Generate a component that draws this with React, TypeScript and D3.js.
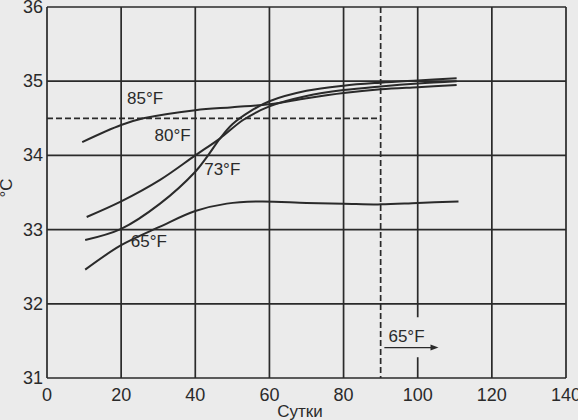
import React from "react";
import * as d3 from "d3";

const xTicks = [0, 20, 40, 60, 80, 100, 120, 140];
const yTicks = [31, 32, 33, 34, 35, 36];

const days85 = [9.5, 20, 26, 40, 50, 60, 70, 80, 90, 100, 110.5];
const temp85 = [34.18, 34.41, 34.5, 34.61, 34.65, 34.69, 34.77, 34.84, 34.89, 34.92, 34.95];

const days80 = [10.7, 20, 30.5, 40, 46.7, 53, 60, 70, 80, 90, 100, 110.5];
const temp80 = [33.17, 33.38, 33.67, 34.0, 34.23, 34.48, 34.66, 34.8, 34.88, 34.93, 34.97, 35.0];

const days73 = [10.3, 20, 30.5, 40, 43, 46.7, 50, 55, 60, 70, 80, 90, 100, 110.5];
const temp73 = [32.86, 33.01, 33.35, 33.78, 33.97, 34.23, 34.42, 34.6, 34.73, 34.87, 34.94, 34.98, 35.01, 35.04];

const days65 = [10.3, 20, 30.5, 40, 48.5, 57.5, 70, 80, 90, 100, 111];
const temp65 = [32.46, 32.79, 33.04, 33.25, 33.35, 33.38, 33.36, 33.35, 33.34, 33.36, 33.38];

const curveLabels = [
  { text: "85°F", day: 21.6, temp: 34.69 },
  { text: "80°F", day: 29, temp: 34.2 },
  { text: "73°F", day: 42.4, temp: 33.74 },
  { text: "65°F", day: 22.6, temp: 32.76 },
];

const thresholdTemp = 34.5;
const thresholdDay = 90;
const gapTop = 31.82;
const gapBottom = 31.28;
const arrowLabel = { text: "65°F", day: 92.1, temp: 31.48 };
const arrowFrom = 91;
const arrowTo = 105.6;
const arrowTemp = 31.41;

const W = 578;
const H = 420;

export default function App() {
  const x = d3.scaleLinear().domain([0, 140]).range([47, 566]);
  const y = d3.scaleLinear().domain([31, 36]).range([378, 7]);
  const line = d3
    .line<[number, number]>()
    .x((d) => x(d[0]))
    .y((d) => y(d[1]))
    .curve(d3.curveCatmullRom.alpha(0.5));
  const series = [
    [days85, temp85],
    [days80, temp80],
    [days73, temp73],
    [days65, temp65],
  ].map(([ds, ts]) => ds.map((d, i) => [d, ts[i]] as [number, number]));

  const ink = "#2a2a2a";
  const bg = "#ebebeb";
  const font = "'Liberation Sans', Arial, Helvetica, sans-serif";

  return (
    <svg
      width={W}
      height={H}
      style={{ position: "fixed", left: 0, top: 0, background: bg }}
      fontFamily={font}
    >
      <rect x={0} y={0} width={W} height={H} fill={bg} />
      {yTicks.map((t) => (
        <line key={"h" + t} x1={x(0)} x2={x(140)} y1={y(t)} y2={y(t)} stroke={ink} strokeWidth={1.7} />
      ))}
      {xTicks.map((t) =>
        t === 100 ? (
          <g key={"v" + t}>
            <line x1={x(t)} x2={x(t)} y1={y(36)} y2={y(gapTop)} stroke={ink} strokeWidth={1.7} />
            <line x1={x(t)} x2={x(t)} y1={y(gapBottom)} y2={y(31)} stroke={ink} strokeWidth={1.7} />
          </g>
        ) : (
          <line key={"v" + t} x1={x(t)} x2={x(t)} y1={y(36)} y2={y(31)} stroke={ink} strokeWidth={1.7} />
        )
      )}
      <line
        x1={x(0)}
        x2={x(thresholdDay)}
        y1={y(thresholdTemp)}
        y2={y(thresholdTemp)}
        stroke={ink}
        strokeWidth={1.7}
        strokeDasharray="6,3"
      />
      <line
        x1={x(thresholdDay)}
        x2={x(thresholdDay)}
        y1={y(36)}
        y2={y(31)}
        stroke={ink}
        strokeWidth={1.7}
        strokeDasharray="6,3"
      />
      {series.map((s, i) => (
        <path key={"c" + i} d={line(s) || ""} fill="none" stroke={ink} strokeWidth={2} />
      ))}
      {curveLabels.map((l) => (
        <text key={l.text + l.day} x={x(l.day)} y={y(l.temp)} fontSize={17} fill={ink}>
          {l.text}
        </text>
      ))}
      <text x={x(arrowLabel.day)} y={y(arrowLabel.temp)} fontSize={17} fill={ink}>
        {arrowLabel.text}
      </text>
      <line x1={x(arrowFrom)} x2={x(arrowTo) - 5} y1={y(arrowTemp)} y2={y(arrowTemp)} stroke={ink} strokeWidth={1.3} />
      <path
        d={`M${x(arrowTo)},${y(arrowTemp)} L${x(arrowTo) - 8},${y(arrowTemp) - 3} L${x(arrowTo) - 8},${y(arrowTemp) + 3} Z`}
        fill={ink}
      />
      {yTicks.map((t) => (
        <text key={"yl" + t} x={43} y={y(t) + 6} fontSize={18} fill={ink} textAnchor="end">
          {t}
        </text>
      ))}
      {xTicks.map((t) => (
        <text key={"xl" + t} x={x(t)} y={401} fontSize={18} fill={ink} textAnchor="middle">
          {t}
        </text>
      ))}
      <text x={300} y={417} fontSize={17} fill={ink} textAnchor="middle">
        Сутки
      </text>
      <text transform={`translate(12,188) rotate(-90)`} fontSize={17} fill={ink} textAnchor="middle">
        °C
      </text>
    </svg>
  );
}
